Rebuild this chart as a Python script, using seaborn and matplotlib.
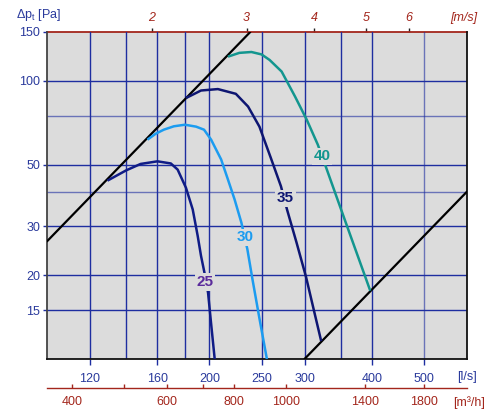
import numpy as np
import pandas as pd
import matplotlib
matplotlib.use("Agg")
import matplotlib.pyplot as plt
import matplotlib.ticker as mticker
import seaborn as sns

# ---------------- data ----------------
q25 = [129.4, 140.2, 149.1, 160.2, 169.6, 174.6, 180.9, 186.2, 190.2, 192.9, 195.7, 198.8, 201.4, 204.5]
p25 = [43.8, 47.7, 50.3, 51.4, 50.5, 48.0, 41.3, 34.5, 27.7, 23.5, 20.5, 17.3, 13.4, 10.0]

q30 = [153.5, 159.0, 164.6, 171.8, 180.1, 188.9, 195.4, 201.4, 210.2, 216.4, 222.6, 229.2, 235.1, 240.2, 247.5, 255.5]
p30 = [61.5, 64.6, 66.8, 68.7, 69.6, 68.5, 66.8, 61.5, 52.2, 44.2, 37.5, 30.9, 24.8, 19.4, 14.0, 10.0]

q35 = [180.9, 192.9, 207.3, 223.8, 235.8, 247.5, 259.8, 271.3, 278.4, 290.0, 302.0, 311.9, 322.1]
p35 = [86.8, 92.4, 93.5, 89.9, 80.9, 68.5, 52.9, 41.8, 34.5, 26.2, 19.7, 15.1, 11.6]

q40 = [216.4, 227.2, 239.2, 249.7, 258.5, 272.1, 288.1, 302.9, 317.5, 329.1, 357.4, 388.2, 397.1]
p40 = [122.3, 126.2, 127.1, 124.6, 119.0, 108.1, 87.9, 72.5, 59.0, 48.7, 31.1, 19.9, 17.6]

sys_upper_q = [100, 238]
sys_upper_p = [26.5, 150]
sys_lower_q = [300, 600]
sys_lower_p = [10, 40]

curve_names = ["25", "30", "35", "40"]
label_pos = [(196.3, 18.9), (233.1, 27.4), (276.8, 37.8), (323.0, 53.5)]

x_ticks = [120, 160, 200, 250, 300, 400, 500]
x_grid = [120, 140, 160, 180, 200, 250, 300, 350, 400, 500]
y_ticks = [15, 20, 30, 50, 100, 150]
y_grid = [15, 20, 30, 40, 50, 75, 100]
v_ticks = [2, 3, 4, 5, 6]
m3h_ticks = [400, 500, 600, 700, 800, 1000, 1400, 1800]
m3h_labels = ["400", "", "600", "", "800", "1000", "1400", "1800"]

# ---------------- style ----------------
sns.set_style("white")
plt.rcParams['font.family'] = ['Liberation Sans', 'DejaVu Sans']
plt.rcParams['mathtext.fontset'] = 'custom'
plt.rcParams['mathtext.rm'] = 'Liberation Sans'
plt.rcParams['mathtext.it'] = 'Liberation Sans:italic'

BLUE = '#1e2ea0'
TXTBLUE = '#2a3a9c'
RED = '#a3261c'
BG = '#dcdcdc'
FS = 9
colors = ['#101c86', '#1c9cf0', '#0e1672', '#13968f']
label_colors = ['#5b2c9c', '#1c9cf0', '#0e1672', '#13968f']

fig = plt.figure(figsize=(4.86, 4.12), dpi=100)
ax = fig.add_axes([47/486, 1-359/412, 420/486, 327/412])
ax.set_facecolor(BG)
ax.set_xscale('log')
ax.set_yscale('log')
ax.set_xlim(100, 600)
ax.set_ylim(10, 150)

# grid
for gx in x_grid:
    ax.axvline(gx, color=BLUE, lw=1.0, alpha=0.6 if gx == 500 else 1.0, zorder=1)
for gy in y_grid:
    ax.axhline(gy, color=BLUE, lw=1.0, alpha=0.6 if gy in (40, 75) else 1.0, zorder=1)

# system lines
for qs, ps in [(sys_upper_q, sys_upper_p), (sys_lower_q, sys_lower_p)]:
    sns.lineplot(x=qs, y=ps, ax=ax, color='black', lw=1.6, sort=False, zorder=3)

# fan curves
for (qs, ps), c in zip([(q25, p25), (q30, p30), (q35, p35), (q40, p40)], colors):
    df = pd.DataFrame({'q': qs, 'p': ps})
    sns.lineplot(data=df, x='q', y='p', ax=ax, color=c, lw=1.8, sort=False, zorder=4,
                 solid_joinstyle='round', solid_capstyle='butt')

for name, (lx, ly), c in zip(curve_names, label_pos, label_colors):
    ax.text(lx, ly, name, color=c, fontsize=11, fontweight='bold', ha='center', va='center',
            zorder=6, bbox=dict(facecolor=BG, edgecolor='none', pad=1.2))

ax.set_xlabel('')
ax.set_ylabel('')

# main axes ticks
ax.xaxis.set_major_locator(mticker.FixedLocator(x_ticks))
ax.xaxis.set_major_formatter(mticker.FixedFormatter([str(t) for t in x_ticks]))
ax.xaxis.set_minor_locator(mticker.NullLocator())
ax.yaxis.set_major_locator(mticker.FixedLocator(y_ticks))
ax.yaxis.set_major_formatter(mticker.FixedFormatter([str(t) for t in y_ticks]))
ax.yaxis.set_minor_locator(mticker.NullLocator())
ax.tick_params(axis='x', which='major', direction='out', length=4, width=1, color=BLUE,
               labelcolor=TXTBLUE, labelsize=FS, pad=6, bottom=True)
ax.tick_params(axis='y', which='major', direction='out', length=3, width=1, color=BLUE,
               labelcolor=TXTBLUE, labelsize=FS, pad=2, left=True)

for s in ['left', 'right', 'bottom']:
    ax.spines[s].set_color('#111111')
    ax.spines[s].set_linewidth(1.3)
ax.spines['left'].set_color('#444444')
ax.spines['top'].set_visible(False)

# top velocity axis
A = 78.1
top = ax.secondary_xaxis('top', functions=(lambda q: q / A, lambda v: v * A))
top.xaxis.set_major_locator(mticker.FixedLocator(v_ticks))
top.xaxis.set_major_formatter(mticker.FixedFormatter([str(t) for t in v_ticks]))
top.xaxis.set_minor_locator(mticker.NullLocator())
top.tick_params(axis='x', direction='out', length=3, width=1, color='#222222',
                labelcolor=RED, labelsize=FS, pad=3)
for lab in top.get_xticklabels():
    lab.set_fontstyle('italic')
top.spines['top'].set_color(RED)
top.spines['top'].set_linewidth(1.3)

# bottom m3/h axis
bot = ax.secondary_xaxis(-29/327, functions=(lambda q: q * 3.6, lambda m: m / 3.6))
bot.xaxis.set_major_locator(mticker.FixedLocator(m3h_ticks))
bot.xaxis.set_major_formatter(mticker.FixedFormatter(m3h_labels))
bot.xaxis.set_minor_locator(mticker.NullLocator())
bot.tick_params(axis='x', direction='in', length=3, width=1, color=RED,
                labelcolor=RED, labelsize=FS, pad=6)
bot.spines['bottom'].set_color(RED)
bot.spines['bottom'].set_linewidth(1.0)

# unit labels
fig.text(16/486, 1-15/412, r'$\Delta$p$_{\mathrm{t}}$ [Pa]', color=TXTBLUE, fontsize=FS,
         ha='left', va='center')
fig.text(477/486, 1-18/412, '[m/s]', color=RED, fontsize=FS, style='italic',
         ha='right', va='center')
fig.text(477/486, 1-377/412, '[l/s]', color=TXTBLUE, fontsize=FS, ha='right', va='center')
fig.text(485/486, 1-403/412, '[m³/h]', color=RED, fontsize=FS, ha='right', va='center')

fig.savefig('out.png', dpi=100)
